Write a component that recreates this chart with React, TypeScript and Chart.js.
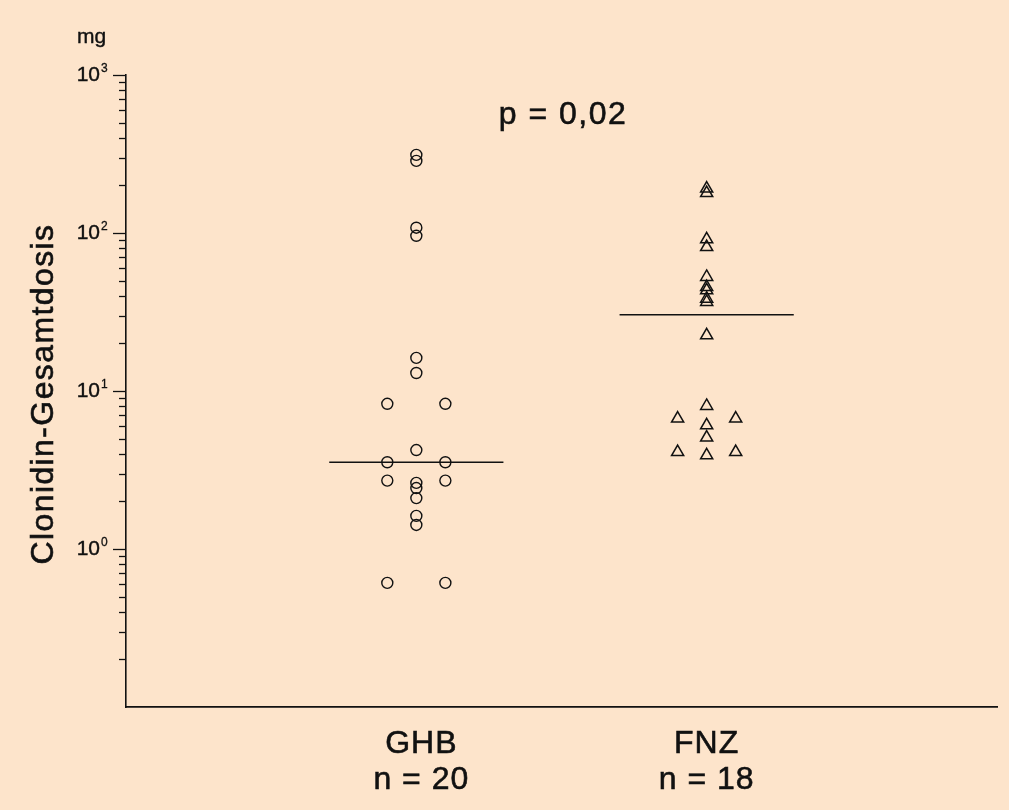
import React, { useEffect, useRef } from "react";
import { Chart, registerables } from "chart.js";

Chart.register(...registerables);

// ---- data ----
const categories = ["GHB", "FNZ"];
const groupSizes = ["n = 20", "n = 18"];
const ghbValues = [312, 286, 108, 96, 16.2, 13.0, 8.3, 8.3, 4.23, 3.54, 3.54, 2.71, 2.71, 2.62, 2.43, 2.1, 1.62, 1.42, 0.61, 0.61];
const ghbLanes = [0, 0, 0, 0, 0, 0, -1, 1, 0, -1, 1, -1, 1, 0, 0, 0, 0, 0, -1, 1];
const fnzValues = [191, 179, 91.2, 81.5, 52.7, 45.5, 43.4, 38.4, 36.6, 22.5, 8.04, 6.69, 6.69, 6.07, 5.07, 4.11, 4.11, 3.92];
const fnzLanes = [0, 0, 0, 0, 0, 0, 0, 0, 0, 0, 0, -1, 1, 0, 0, -1, 1, 0];
const medians = [3.54, 30.4];
const yTickExponents = [0, 1, 2, 3];
const yMinorMultipliers = [2, 3, 4, 5, 6, 7, 8, 9];
const yDecades = [-1, 0, 1, 2];
const pValueLabel = "p = 0,02";
const yUnit = "mg";
const yTitle = "Clonidin-Gesamtdosis";

const LANE = 0.1;
const MEDIAN_HALF = 0.3;
const FONT = "'Liberation Sans', Arial, Helvetica, sans-serif";
const INK = "#111111";
const BG = "#FDE4CB";

function heavyText(ctx: any, text: string, x: number, y: number, w = 0.5) {
  ctx.fillText(text, x, y);
  ctx.lineWidth = w;
  ctx.strokeText(text, x, y);
}

const overlayPlugin = {
  id: "overlay",
  beforeDraw(chart: any) {
    const { ctx, width, height } = chart;
    ctx.save();
    ctx.fillStyle = BG;
    ctx.fillRect(0, 0, width, height);
    ctx.restore();
  },
  afterDraw(chart: any) {
    const { ctx } = chart;
    const y = chart.scales.y;
    const x = chart.scales.x;
    const left = chart.chartArea.left;
    ctx.save();
    ctx.strokeStyle = INK;
    ctx.fillStyle = INK;
    ctx.lineWidth = 1.3;
    // tick marks
    for (const d of yDecades) {
      for (const m of yMinorMultipliers) {
        const py = Math.round(y.getPixelForValue(m * Math.pow(10, d))) + 0.5;
        ctx.beginPath();
        ctx.moveTo(left - 7, py);
        ctx.lineTo(left, py);
        ctx.stroke();
      }
    }
    for (const e of yTickExponents) {
      const py = Math.round(y.getPixelForValue(Math.pow(10, e))) + 0.5;
      ctx.lineWidth = 1.3;
      ctx.beginPath();
      ctx.moveTo(left - 13, py);
      ctx.lineTo(left, py);
      ctx.stroke();
      ctx.font = `21px ${FONT}`;
      ctx.textAlign = "right";
      ctx.textBaseline = "middle";
      heavyText(ctx, "10", left - 26, py, 0.4);
      ctx.font = `12px ${FONT}`;
      ctx.textAlign = "left";
      heavyText(ctx, String(e), left - 25, py - 7, 0.3);
    }
    // unit
    ctx.font = `21px ${FONT}`;
    ctx.textAlign = "left";
    ctx.textBaseline = "alphabetic";
    heavyText(ctx, yUnit, 77, 43, 0.4);
    // y title
    ctx.save();
    ctx.translate(53, 394);
    ctx.rotate(-Math.PI / 2);
    ctx.font = `32px ${FONT}`;
    (ctx as any).letterSpacing = "1.4px";
    ctx.textAlign = "center";
    ctx.textBaseline = "alphabetic";
    heavyText(ctx, yTitle, 0, 0, 0.6);
    ctx.restore();
    // p value
    ctx.save();
    ctx.font = `32px ${FONT}`;
    (ctx as any).letterSpacing = "1.5px";
    ctx.textAlign = "center";
    ctx.textBaseline = "alphabetic";
    heavyText(ctx, pValueLabel, 563, 124, 0.6);
    ctx.restore();
    // category labels
    ctx.save();
    ctx.font = `32px ${FONT}`;
    (ctx as any).letterSpacing = "1px";
    ctx.textAlign = "center";
    ctx.textBaseline = "alphabetic";
    categories.forEach((c, i) => {
      const px = x.getPixelForValue(i + 1) + (i === 0 ? 5 : 0);
      heavyText(ctx, c, px, 753, 0.6);
      heavyText(ctx, groupSizes[i], px, 789, 0.6);
    });
    ctx.restore();
    ctx.restore();
  },
};

export default function App() {
  const ref = useRef<HTMLCanvasElement | null>(null);
  useEffect(() => {
    if (!ref.current) return;
    const ghbPoints = ghbValues.map((v, i) => ({ x: 1 + ghbLanes[i] * LANE, y: v }));
    const fnzPoints = fnzValues.map((v, i) => ({ x: 2 + fnzLanes[i] * LANE, y: v }));
    const medianSets = medians.map((m, i) => ({
      type: "line" as const,
      data: [
        { x: i + 1 - MEDIAN_HALF, y: m },
        { x: i + 1 + MEDIAN_HALF, y: m },
      ],
      showLine: true,
      borderColor: INK,
      borderWidth: 1.4,
      pointRadius: 0,
      fill: false,
    }));
    const chart = new Chart(ref.current, {
      type: "scatter",
      data: {
        datasets: [
          ...medianSets,
          {
            label: categories[0],
            data: ghbPoints,
            pointStyle: "circle",
            pointRadius: 5.5,
            borderWidth: 1.4,
            borderColor: INK,
            backgroundColor: "rgba(0,0,0,0)",
          },
          {
            label: categories[1],
            data: fnzPoints,
            pointStyle: "triangle",
            pointRadius: 7,
            borderWidth: 1.5,
            borderColor: INK,
            backgroundColor: "rgba(0,0,0,0)",
          },
        ] as any,
      },
      options: {
        responsive: false,
        animation: false,
        events: [],
        layout: { padding: { left: 126, top: 75, right: 12, bottom: 103 } },
        plugins: { legend: { display: false }, tooltip: { enabled: false } },
        scales: {
          x: {
            type: "linear",
            min: 0,
            max: 3,
            ticks: { display: false },
            grid: { display: false, drawTicks: false },
            border: { display: true, color: INK, width: 1.8 },
          },
          y: {
            type: "logarithmic",
            min: 0.1,
            max: 1000,
            ticks: { display: false },
            grid: { display: false, drawTicks: false },
            border: { display: true, color: INK, width: 1.6 },
          },
        },
      },
      plugins: [overlayPlugin],
    });
    return () => chart.destroy();
  }, []);
  return (
    <div style={{ position: "absolute", left: 0, top: 0, width: 1009, height: 810, background: BG }}>
      <canvas ref={ref} width={1009} height={810} style={{ display: "block" }} />
    </div>
  );
}
